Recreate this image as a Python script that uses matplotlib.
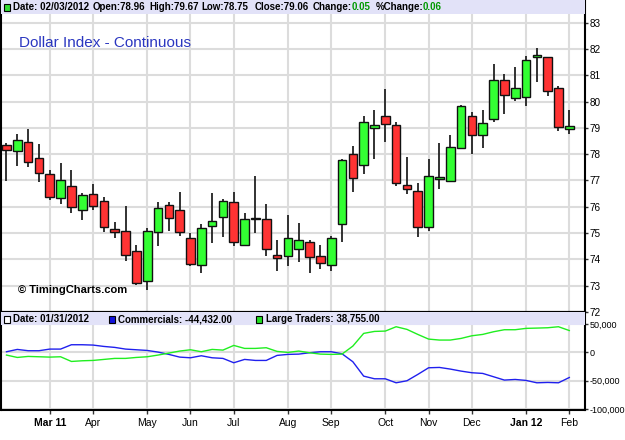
import matplotlib
matplotlib.use('Agg')
import matplotlib.pyplot as plt
from matplotlib.patches import Rectangle
import numpy as np

plt.rcParams['font.family'] = ['Liberation Sans', 'DejaVu Sans']

###Data
# weekly candles, Dollar Index (oldest first)
opens = [78.36, 78.13, 78.46, 77.87, 77.24, 76.32, 76.79, 75.88, 76.50, 76.22,
         75.15, 75.08, 74.30, 73.18, 75.04, 76.08, 75.86, 74.82, 73.78, 75.26,
         75.62, 76.18, 74.53, 75.55, 75.52, 74.18, 74.13, 74.41, 74.67, 74.14,
         73.78, 75.35, 78.00, 77.57, 78.99, 79.46, 79.09, 76.81, 76.61, 75.24,
         77.04, 76.98, 78.24, 79.44, 78.73, 79.34, 80.80, 80.13, 80.18, 81.68,
         81.68, 80.52, 78.96]
highs = [78.43, 78.77, 78.96, 78.37, 77.39, 77.67, 77.39, 76.53, 76.86, 76.38,
         75.44, 76.04, 74.53, 75.21, 76.17, 76.18, 76.56, 74.99, 75.33, 76.52,
         76.30, 76.56, 75.77, 77.18, 76.12, 74.72, 75.67, 75.39, 74.73, 74.54,
         74.89, 77.82, 78.30, 79.44, 79.66, 80.46, 79.22, 77.89, 76.89, 77.82,
         78.43, 78.71, 79.88, 79.59, 79.69, 81.43, 81.05, 81.33, 81.74, 82.05,
         81.68, 80.58, 79.67]
lows = [76.97, 77.54, 77.52, 76.95, 76.26, 76.11, 75.75, 75.48, 75.86, 75.03,
        74.81, 73.93, 73.01, 72.84, 74.51, 75.08, 74.89, 73.73, 73.50, 74.61,
        74.86, 74.51, 74.51, 74.99, 74.13, 73.57, 73.75, 73.90, 73.49, 73.65,
        73.56, 74.66, 76.56, 77.23, 77.80, 78.46, 76.78, 76.47, 74.86, 75.08,
        76.69, 76.94, 78.18, 78.02, 78.24, 79.21, 79.54, 80.01, 79.82, 80.73,
        80.20, 78.87, 78.75]
closes = [78.14, 78.52, 77.70, 77.29, 76.38, 77.01, 75.98, 76.46, 76.04, 75.25,
          75.03, 74.18, 73.09, 75.08, 75.96, 75.58, 75.04, 73.82, 75.20, 75.47,
          76.22, 74.67, 75.52, 75.57, 74.41, 74.04, 74.80, 74.73, 74.10, 73.87,
          74.82, 77.76, 77.10, 79.23, 79.09, 79.16, 76.91, 76.66, 75.24, 77.18,
          77.14, 78.27, 79.83, 78.73, 79.19, 80.80, 80.23, 80.51, 81.57, 81.77,
          80.40, 79.02, 79.06]

# COT net positions, same weeks
commercials = [1200, 5300, 3000, 3000, 5900, 5900, 13600, 13600, 13000, 10600,
               8900, 5900, 4700, 3500, 600, -3500, -8300, -9500, -5900, -9500,
               -10600, -18300, -12400, -14200, -14200, -5300, -3500, -3000, -600, 1200,
               1200, -2400, -16500, -42000, -46700, -46700, -53800, -50200, -39000, -27200,
               -26600, -29500, -33100, -36000, -37200, -43100, -49000, -47900, -49600, -53800,
               -53200, -53800, -44432]
large_traders = [-4700, -8900, -7100, -7700, -8300, -7700, -16000, -14800, -14200, -12400,
                 -10600, -10600, -8900, -7700, -4700, -1200, 2400, 4700, 1200, 5300,
                 4100, 12400, 7100, 7100, 8300, 1800, 0, 2400, -600, -3000,
                 -3500, -3000, 11200, 33700, 37200, 37800, 45500, 40800, 31900, 23600,
                 21900, 21900, 24800, 29500, 31900, 36600, 40200, 40200, 42600, 43100,
                 43700, 45500, 38755]

# month gridlines sit on the first candle of each month
month_idx = [4, 8, 13, 17, 21, 26, 30, 35, 39, 43, 48, 52]
month_lbl = ['Mar 11', 'Apr', 'May', 'Jun', 'Jul', 'Aug', 'Sep', 'Oct', 'Nov', 'Dec', 'Jan 12', 'Feb']

price_ticks = list(range(72, 84))
cot_ticks = [-100000, -50000, 0, 50000]

###Figure
fig = plt.figure(figsize=(6.25, 4.4), dpi=100)
ax = fig.add_axes([1.5 / 625, 1 - 312 / 440, 583.5 / 625, 312 / 440])
ax2 = fig.add_axes([1.5 / 625, 1 - 410 / 440, 583.5 / 625, 98 / 440])

grid_col = '#DCDCDC'
x = np.arange(len(opens))

# candles
o = np.array(opens)
c = np.array(closes)
up = c >= o
body_col = np.where(up, '#33FF33', '#FF3333')
bottom = np.minimum(o, c)
height = np.maximum(np.abs(c - o), 0.04)
ax.vlines(x, lows, highs, color='#222222', linewidth=1.3, zorder=3)
ax.bar(x, height, bottom=bottom, width=0.8, color=body_col, edgecolor='#111111',
       linewidth=1.0, zorder=4)

ax.set_xlim(-0.46, 53.45)
ax.set_ylim(72, 83.86)
ax.set_yticks(price_ticks)
ax.set_xticks(month_idx)
ax.tick_params(axis='x', length=0, labelbottom=False)
ax.yaxis.tick_right()
ax.tick_params(axis='y', length=2, width=1, color='#333333', labelsize=7.2, pad=1.5)
ax.grid(True, color=grid_col, linewidth=1.5, zorder=0)
ax.set_axisbelow(True)
for s in ax.spines.values():
    s.set_linewidth(1.5)
    s.set_color('black')
ax.spines['top'].set_visible(False)

# header band main panel
ax.add_patch(Rectangle((0, 1 - 14 / 312), 1, 14 / 312, transform=ax.transAxes,
                       facecolor='#E2E2F8', edgecolor='none', zorder=5))
ax.text(17 / 583, 1 - 43 / 312, 'Dollar Index - Continuous', transform=ax.transAxes,
        color='#2A36C0', fontsize=11, va='center', ha='left', zorder=6)
ax.text(16 / 583, 1 - 290 / 312, '\u00a9 TimingCharts.com', transform=ax.transAxes,
        color='black', fontsize=8, fontweight='bold', va='center', ha='left', zorder=6)

# COT lines
ax2.plot(x, commercials, color='#2020EE', linewidth=1.0, zorder=3)
ax2.plot(x, large_traders, color='#20EE20', linewidth=1.0, zorder=3)
ax2.set_xlim(-0.46, 53.45)
ax2.set_ylim(-102000, 71600)
ax2.set_yticks(cot_ticks)
ax2.set_yticklabels(['{:,}'.format(v) for v in cot_ticks])
ax2.yaxis.tick_right()
ax2.tick_params(axis='y', length=2, width=1, color='#333333', labelsize=6.5, pad=1)
ax2.set_xticks(month_idx)
ax2.set_xticklabels(month_lbl)
ax2.tick_params(axis='x', length=3, width=1, color='#333333', labelsize=7.5, pad=3)
for lbl in ax2.get_xticklabels():
    if ' ' in lbl.get_text():
        lbl.set_fontweight('bold')
ax2.grid(True, color=grid_col, linewidth=1.5, zorder=0)
ax2.set_axisbelow(True)
for s in ax2.spines.values():
    s.set_linewidth(1.5)
    s.set_color('black')
ax2.add_patch(Rectangle((0, 1 - 13 / 98), 1, 13 / 98, transform=ax2.transAxes,
                        facecolor='#E2E2F8', edgecolor='none', zorder=5))

# header texts
def header(px, py, s, col='black'):
    fig.text(px / 625, 1 - py / 440, s, color=col, fontsize=7, fontweight='bold',
             va='center', ha='left', zorder=10)

def square(px, py, col):
    fig.add_artist(Rectangle((px / 625, 1 - (py + 3.5) / 440), 6 / 625, 7 / 440,
                             facecolor=col, edgecolor='black', linewidth=0.8,
                             transform=fig.transFigure, zorder=10))

hy = 7.5
square(4, hy, '#33DD33')
header(13, hy, 'Date: 02/03/2012')
header(93, hy, 'Open:78.96')
header(149, hy, 'High:79.67')
header(201, hy, 'Low:78.75')
header(255, hy, 'Close:79.06')
header(313, hy, 'Change:')
header(352, hy, '0.05', '#009900')
header(376, hy, '%Change:')
header(423, hy, '0.06', '#009900')

ly = 319
square(4, ly, 'white')
header(13, ly, 'Date: 01/31/2012')
square(109, ly, '#1010DD')
header(118, ly, 'Commercials: -44,432.00')
square(256, ly, '#22DD22')
header(266, ly, 'Large Traders: 38,755.00')

fig.savefig('out.png', dpi=100)
